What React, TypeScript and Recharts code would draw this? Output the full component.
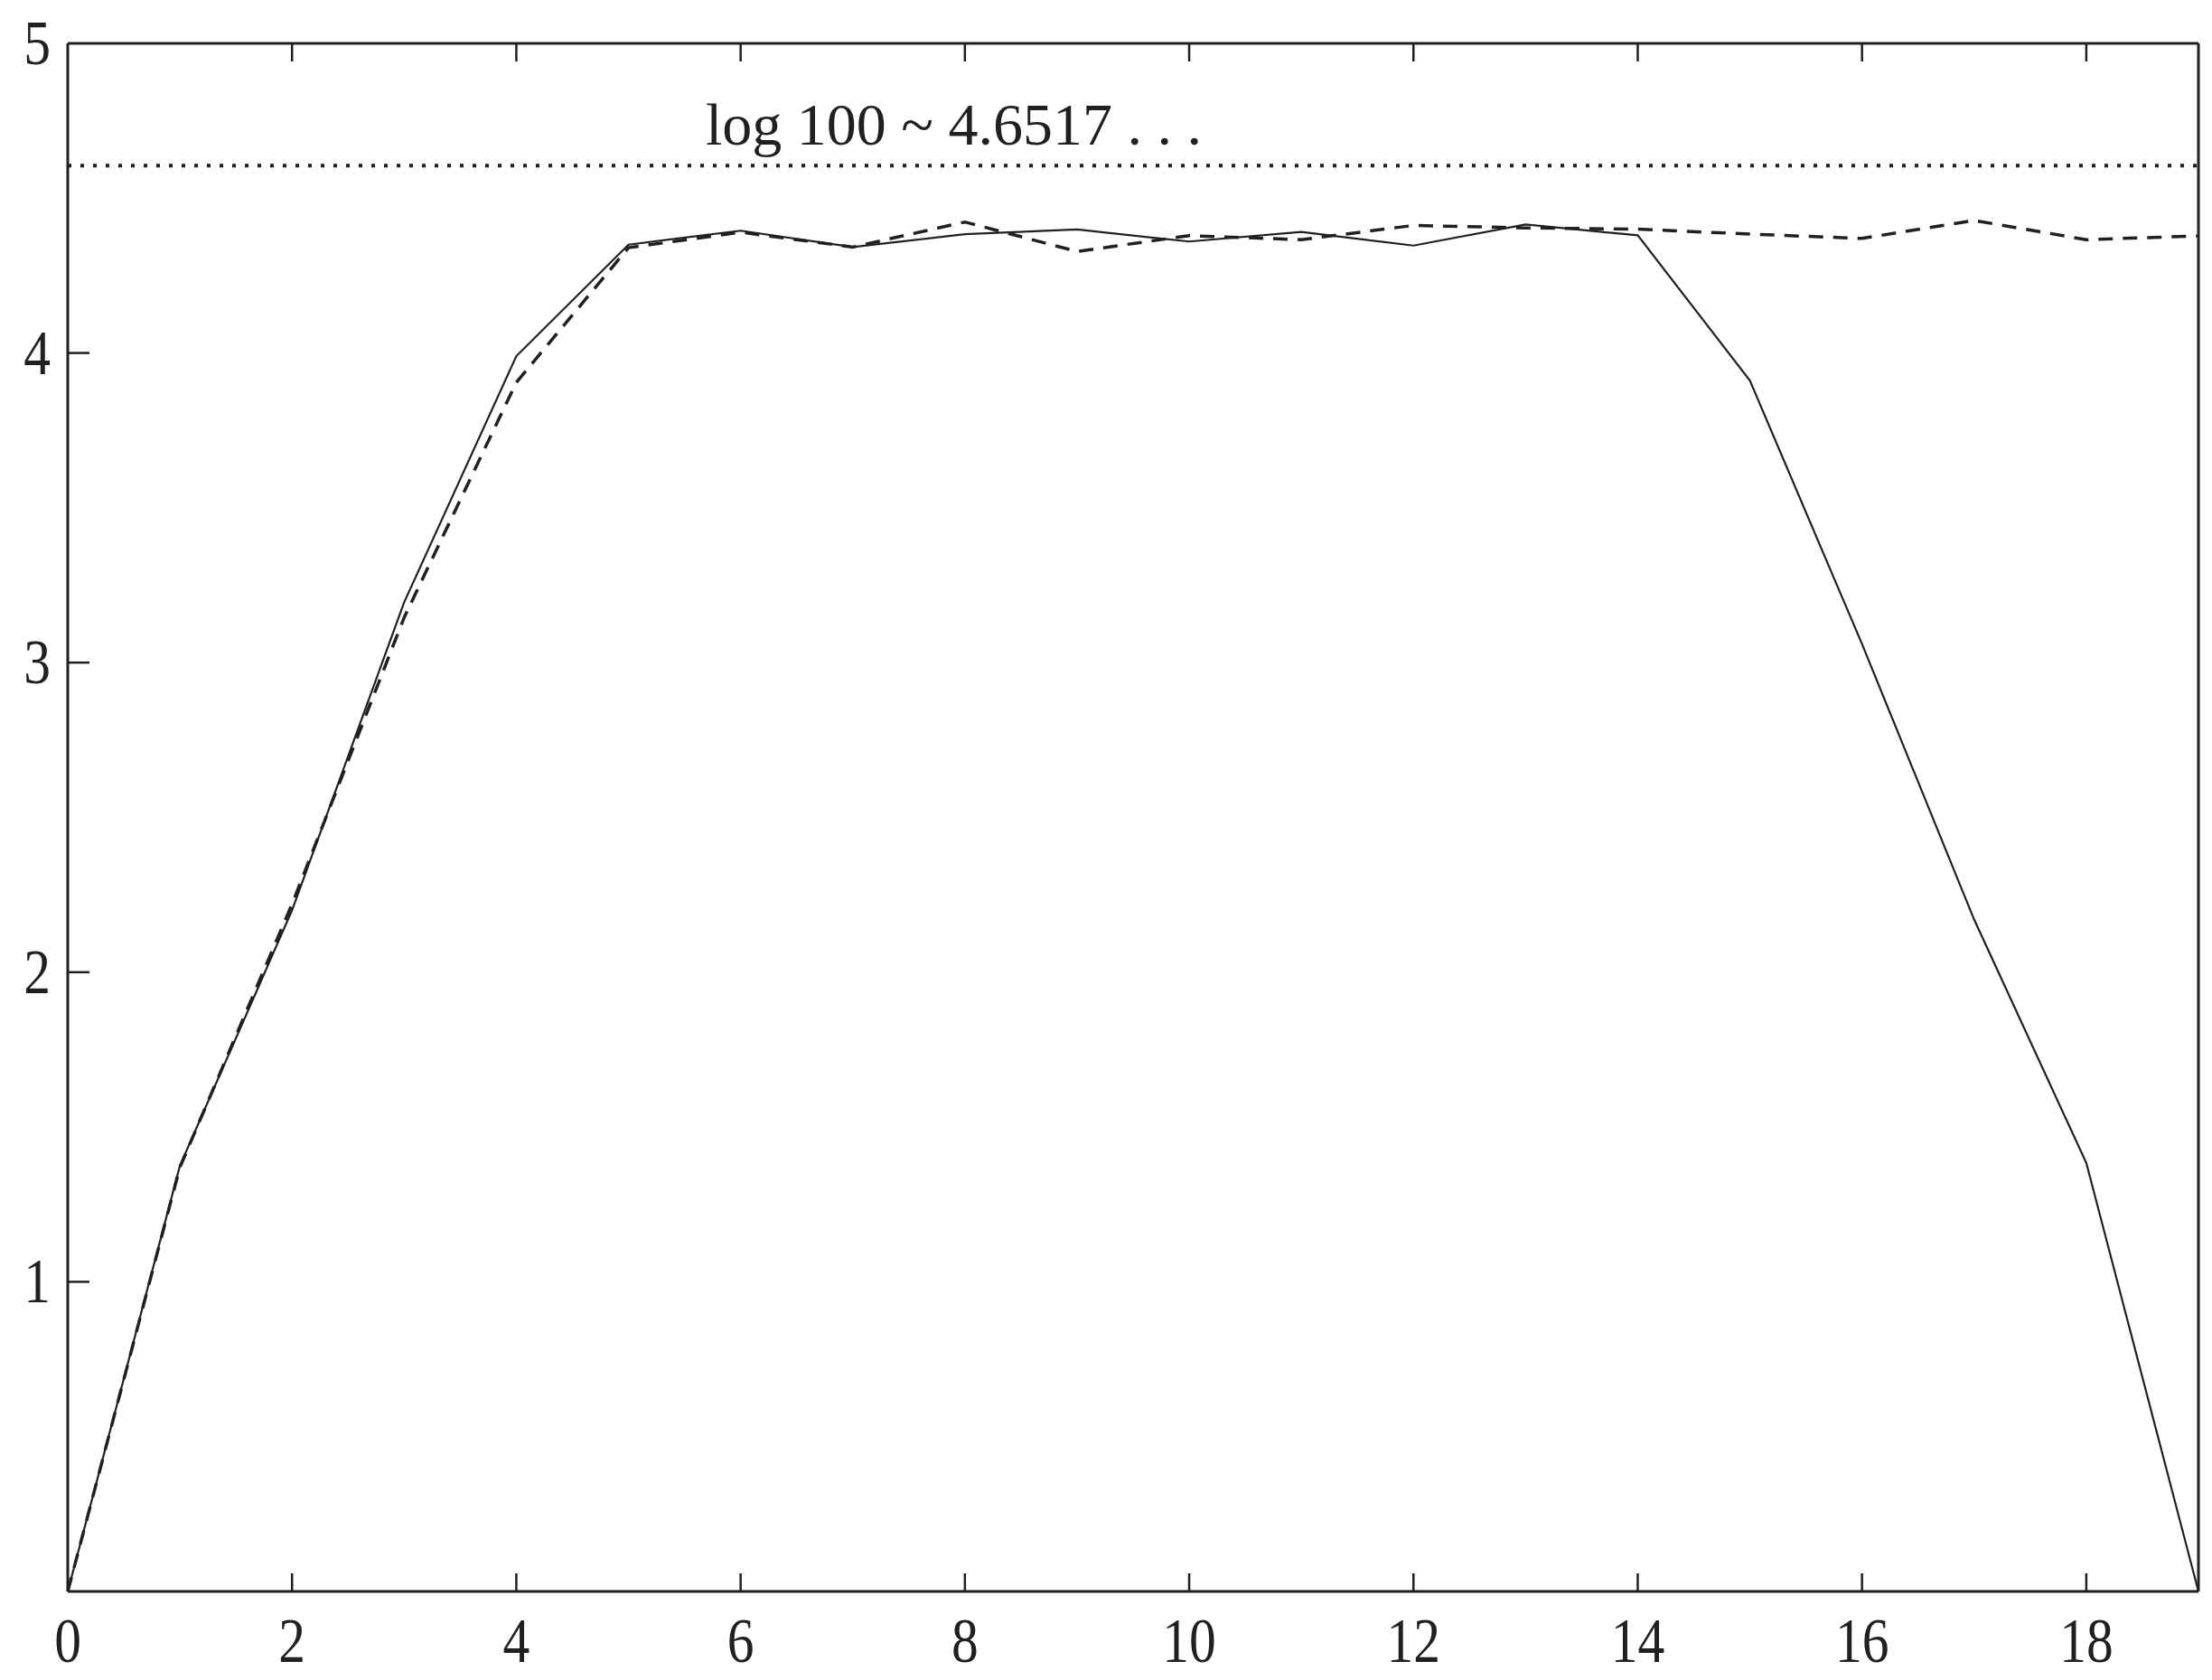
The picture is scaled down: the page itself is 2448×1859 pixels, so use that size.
import { LineChart, Line, XAxis, YAxis, ReferenceLine } from 'recharts';

const steps = [0, 1, 2, 3, 4, 5, 6, 7, 8, 9, 10, 11, 12, 13, 14, 15, 16, 17, 18, 19];
const solidSeries = [
  0, 1.375, 2.2, 3.195, 3.99, 4.35, 4.395, 4.342, 4.384, 4.399, 4.36, 4.391, 4.347, 4.415, 4.38, 3.911, 3.06,
  2.17, 1.384, 0,
];
const dashedSeries = [
  0, 1.37, 2.22, 3.146, 3.905, 4.34, 4.39, 4.342, 4.423, 4.328, 4.379, 4.366, 4.412, 4.404, 4.4, 4.384, 4.37,
  4.428, 4.366, 4.378,
];
const logLevel = 4.605;
const levelLabel = 'log 100 ~ 4.6517 . . .';
const xTicks = [0, 2, 4, 6, 8, 10, 12, 14, 16, 18];
const yTicks = [1, 2, 3, 4, 5];
const sideTicks = [1, 2, 3, 4];

const data = steps.map((step, i) => ({ step, solid: solidSeries[i], dashed: dashedSeries[i] }));

const INK = '#231f20';
const FONT = '"Liberation Serif", "Times New Roman", serif';

const BottomTick = ({ x, y, payload }: any) => (
  <g>
    {payload.value > 0 && <line x1={x} x2={x} y1={y} y2={y - 20} stroke={INK} strokeWidth={2.5} />}
    <text
      transform={`translate(${x},${y + 78}) scale(0.85,1)`}
      textAnchor="middle"
      fontFamily={FONT}
      fontSize={70}
      fill={INK}
    >
      {payload.value}
    </text>
  </g>
);

const TopTick = ({ x, y, payload }: any) =>
  payload.value > 0 ? <line x1={x} x2={x} y1={y} y2={y + 20} stroke={INK} strokeWidth={2.5} /> : <g />;

const LeftTick = ({ x, y, payload }: any) => (
  <g>
    {payload.value < 5 && <line x1={x} x2={x + 24} y1={y} y2={y} stroke={INK} strokeWidth={2.5} />}
    <text
      transform={`translate(${x - 19},${y + 23}) scale(0.85,1)`}
      textAnchor="end"
      fontFamily={FONT}
      fontSize={70}
      fill={INK}
    >
      {payload.value}
    </text>
  </g>
);

const RightTick = ({ x, y }: any) => <line x1={x} x2={x - 24} y1={y} y2={y} stroke={INK} strokeWidth={2.5} />;

const axisLine = { stroke: INK, strokeWidth: 3 };

const App = () => {
  return (
    <div style={{ position: 'absolute', left: 0, top: 0, background: '#fff' }}>
      <LineChart width={2448} height={1859} data={data} margin={{ top: 47, right: 14, bottom: 0, left: 0 }}>
        <XAxis
          dataKey="step"
          type="number"
          domain={[0, 19]}
          ticks={xTicks}
          interval={0}
          height={98}
          tickSize={0}
          tickMargin={0}
          tickLine={false}
          axisLine={axisLine}
          tick={<BottomTick />}
        />
        <XAxis
          xAxisId="top"
          orientation="top"
          dataKey="step"
          type="number"
          domain={[0, 19]}
          ticks={xTicks}
          interval={0}
          height={1}
          tickSize={0}
          tickMargin={0}
          tickLine={false}
          axisLine={axisLine}
          tick={<TopTick />}
        />
        <YAxis
          type="number"
          domain={[0, 5]}
          ticks={yTicks}
          interval={0}
          width={75}
          tickSize={0}
          tickMargin={0}
          tickLine={false}
          axisLine={axisLine}
          tick={<LeftTick />}
        />
        <YAxis
          yAxisId="right"
          orientation="right"
          type="number"
          domain={[0, 5]}
          ticks={sideTicks}
          interval={0}
          width={1}
          tickSize={0}
          tickMargin={0}
          tickLine={false}
          axisLine={axisLine}
          tick={<RightTick />}
        />
        <ReferenceLine
          y={logLevel}
          stroke={INK}
          strokeWidth={4}
          strokeDasharray="4 10"
          label={({ viewBox }: any) => (
            <text x={viewBox.x + 706} y={viewBox.y - 23} fontFamily={FONT} fontSize={66} fill={INK}>
              {levelLabel}
            </text>
          )}
        />
        <Line
          type="linear"
          dataKey="dashed"
          stroke={INK}
          strokeWidth={3.5}
          strokeDasharray="16 11"
          dot={false}
          isAnimationActive={false}
        />
        <Line type="linear" dataKey="solid" stroke={INK} strokeWidth={2.2} dot={false} isAnimationActive={false} />
      </LineChart>
    </div>
  );
};

export default App;
